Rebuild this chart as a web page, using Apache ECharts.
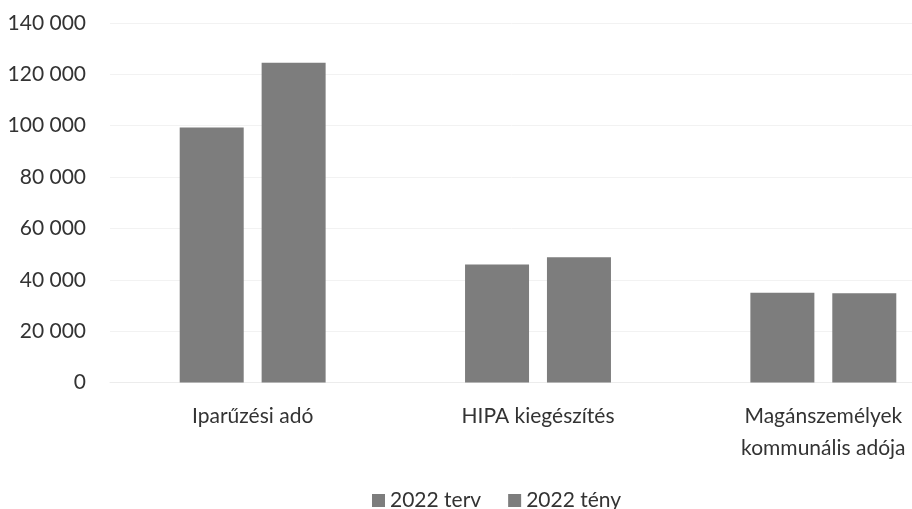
<!DOCTYPE html>
<html>
<head>
<meta charset="utf-8">
<script src="https://cdn.jsdelivr.net/npm/echarts@6/dist/echarts.min.js"></script>
<style>
html,body{margin:0;padding:0;background:#fff;}
#chart{width:912px;height:509px;}
</style>
</head>
<body>
<div id="chart"></div>
<script>
const categories = ["Iparűzési adó", "HIPA kiegészítés", "Magánszemélyek\nkommunális adója"];
const seriesNames = ["2022 terv", "2022 tény"];
const plan2022 = [99300, 46000, 35000];
const actual2022 = [124500, 48800, 34800];
const yTicks = [0, 20000, 40000, 60000, 80000, 100000, 120000, 140000];

const fmt = v => String(v).replace(/\B(?=(\d{3})+(?!\d))/g, ' ');
const textColor = '#333333';
const barColor = '#7d7d7d';
const font = 'Lato';

const chart = echarts.init(document.getElementById('chart'));
chart.setOption({
  animation: false,
  backgroundColor: '#ffffff',
  textStyle: { fontFamily: font },
  grid: { left: 110, width: 856, top: 23, height: 359.5, containLabel: false, outerBoundsMode: 'none' },
  legend: {
    data: seriesNames,
    left: 367,
    top: 485,
    itemWidth: 13,
    itemHeight: 13,
    itemGap: 27,
    icon: 'rect',
    textStyle: { fontFamily: font, fontSize: 21, color: textColor }
  },
  xAxis: {
    type: 'category',
    data: categories,
    axisLine: { show: true, lineStyle: { color: '#ececec', width: 1 } },
    axisTick: { show: false },
    axisLabel: {
      fontFamily: font, fontSize: 21, color: textColor,
      margin: 18, lineHeight: 32, interval: 0
    },
    splitLine: { show: false }
  },
  yAxis: {
    type: 'value',
    min: yTicks[0],
    max: yTicks[yTicks.length - 1],
    interval: yTicks[1] - yTicks[0],
    axisLine: { show: false },
    axisTick: { show: false },
    axisLabel: {
      fontFamily: font, fontSize: 21, color: textColor, margin: 24,
      formatter: v => fmt(v)
    },
    splitLine: { show: true, lineStyle: { color: '#f2f2f2', width: 1 } }
  },
  series: [
    {
      name: seriesNames[0], type: 'bar', data: plan2022,
      barWidth: 64, barGap: '28%',
      itemStyle: { color: barColor }
    },
    {
      name: seriesNames[1], type: 'bar', data: actual2022,
      barWidth: 64, barGap: '28%',
      itemStyle: { color: barColor }
    }
  ]
});
</script>
</body>
</html>
